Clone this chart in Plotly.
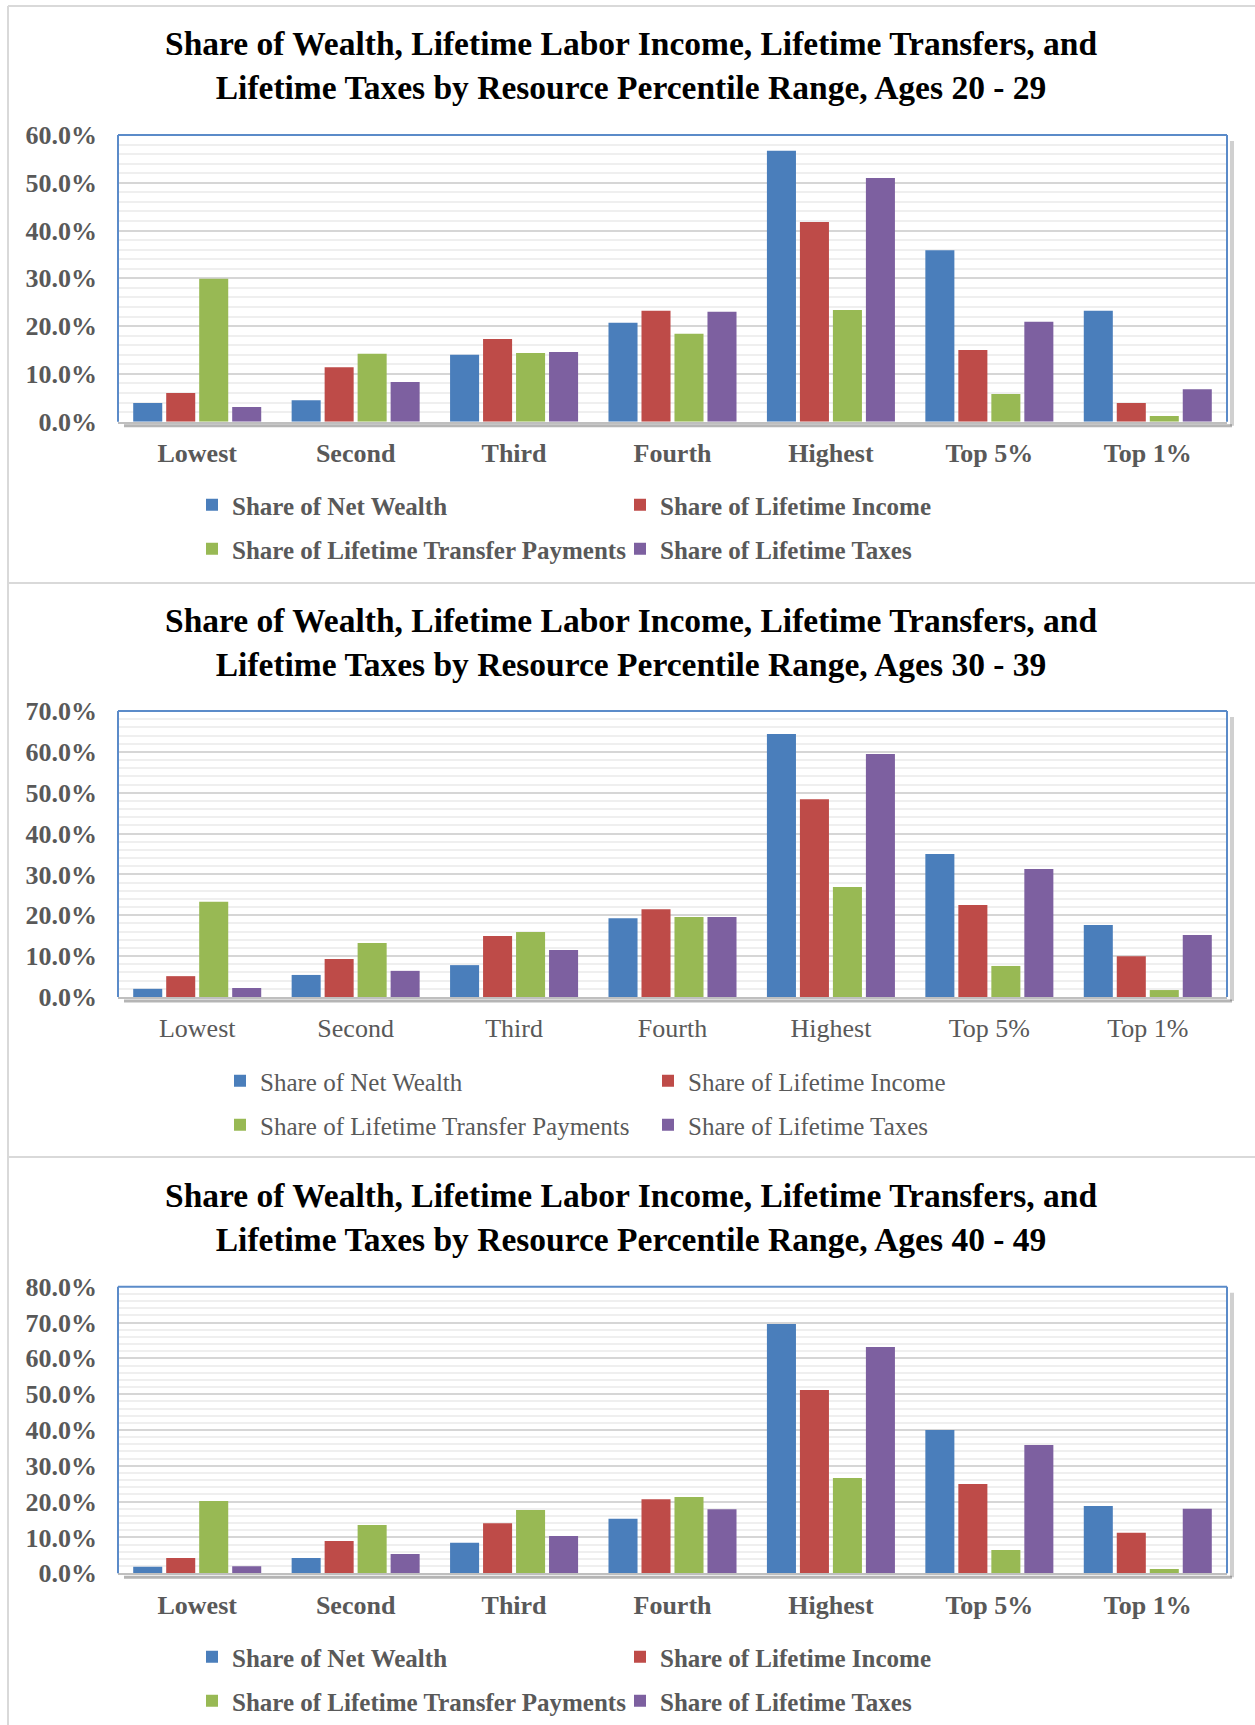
import plotly.graph_objects as go

W, H = 1255, 1725

categories = ["Lowest", "Second", "Third", "Fourth", "Highest", "Top 5%", "Top 1%"]
series_names = ["Share of Net Wealth", "Share of Lifetime Income",
                "Share of Lifetime Transfer Payments", "Share of Lifetime Taxes"]
series_colors = ["#4A7EBB", "#BE4B48", "#98B954", "#7D60A0"]

# values in percent
wealth_20 = [3.9, 4.5, 14.0, 20.7, 56.7, 35.9, 23.2]
income_20 = [6.0, 11.4, 17.3, 23.2, 41.8, 15.0, 3.9]
transfers_20 = [29.9, 14.2, 14.4, 18.4, 23.4, 5.8, 1.2]
taxes_20 = [3.1, 8.3, 14.6, 23.0, 51.0, 20.9, 6.8]

wealth_30 = [2.0, 5.4, 7.8, 19.3, 64.4, 35.0, 17.6]
income_30 = [5.1, 9.3, 14.9, 21.5, 48.4, 22.5, 10.0]
transfers_30 = [23.3, 13.2, 15.9, 19.6, 26.9, 7.6, 1.7]
taxes_30 = [2.2, 6.4, 11.5, 19.6, 59.5, 31.3, 15.2]

wealth_40 = [1.8, 4.3, 8.5, 15.2, 69.6, 40.0, 18.8]
income_40 = [4.3, 9.0, 14.0, 20.7, 51.2, 24.9, 11.3]
transfers_40 = [20.2, 13.5, 17.7, 21.3, 26.6, 6.5, 1.2]
taxes_40 = [2.0, 5.4, 10.4, 17.9, 63.2, 35.8, 18.0]

title_line1 = "Share of Wealth, Lifetime Labor Income, Lifetime Transfers, and"
age_ranges = ["20 - 29", "30 - 39", "40 - 49"]
y_max = [0.6, 0.7, 0.8]

panels = [
    dict(data=[wealth_20, income_20, transfers_20, taxes_20], bold=True,
         plot_px=(135, 421.7), title_px=66, legend_px=(505, 549), legend_left=192),
    dict(data=[wealth_30, income_30, transfers_30, taxes_30], bold=False,
         plot_px=(711, 997), title_px=642, legend_px=(1081, 1125), legend_left=220),
    dict(data=[wealth_40, income_40, transfers_40, taxes_40], bold=True,
         plot_px=(1286.7, 1573.3), title_px=1217, legend_px=(1657, 1701), legend_left=192),
]

FONT = "Liberation Serif"
GRAY_TXT = "#595959"
PLOT_L, PLOT_R = 118, 1227
x_dom = [PLOT_L / W, PLOT_R / W]


def py(v):
    return 1 - v / H


fig = go.Figure()
layout = dict(
    width=W, height=H,
    margin=dict(l=0, r=0, t=0, b=0),
    paper_bgcolor="white", plot_bgcolor="white",
    barmode="group", bargap=0.167, bargroupgap=0.12,
    font=dict(family=FONT, color=GRAY_TXT),
    annotations=[], shapes=[],
)

for i, p in enumerate(panels):
    n = "" if i == 0 else str(i + 1)
    weight = "bold" if p["bold"] else "normal"
    for j, (name, vals) in enumerate(zip(series_names, p["data"])):
        leg_idx = 2 * i + j // 2 + 1
        leg = "legend" if leg_idx == 1 else f"legend{leg_idx}"
        fig.add_trace(go.Bar(
            x=categories, y=[v / 100 for v in vals], name=name,
            marker=dict(color=series_colors[j], line=dict(width=0)),
            xaxis="x" + n, yaxis="y" + n, legend=leg,
        ))

    top, bottom = p["plot_px"]
    layout["xaxis" + n] = dict(
        domain=x_dom, anchor="y" + n, type="category", automargin=False,
        showline=True, linecolor="#bfbfbf", linewidth=2,
        ticks="", ticklabelstandoff=7,
        tickfont=dict(family=FONT, size=26, color=GRAY_TXT, weight=weight),
        fixedrange=True,
    )
    layout["yaxis" + n] = dict(
        domain=[py(bottom), py(top)], anchor="x" + n, automargin=False,
        range=[0, y_max[i]], dtick=0.1, tickformat=".1%",
        showgrid=True, gridcolor="#d6d6d6", gridwidth=1.5,
        minor=dict(dtick=0.02, showgrid=True, gridcolor="#efefef", gridwidth=2),
        zeroline=False, showline=False, ticks="", ticklabelstandoff=20,
        tickfont=dict(family=FONT, size=26, color=GRAY_TXT, weight="bold"),
        fixedrange=True,
    )

    # chart title
    layout["annotations"].append(dict(
        text=f"{title_line1}<br>Lifetime Taxes by Resource Percentile Range, Ages {age_ranges[i]}",
        x=631 / W, y=py(p["title_px"]), xref="paper", yref="paper",
        xanchor="center", yanchor="middle", showarrow=False,
        font=dict(family=FONT, size=33.5, color="black", weight="bold"),
    ))

    # plot-area frame: blue on left/top/right, soft shadow on right and bottom
    xr, yr = "x" + n + " domain", "y" + n + " domain"
    h = bottom - top
    w = PLOT_R - PLOT_L
    for x0, y0, x1, y1, c, wdt in [
        (1 + 5 / w, -4 / h, 1 + 5 / w, 1 - 6 / h, "rgba(120,120,120,0.35)", 4),
        (6 / w, -4 / h, 1 + 5 / w, -4 / h, "rgba(90,90,90,0.45)", 3),
        (0, 0, 0, 1, "#5B8BC9", 2),
        (0, 1, 1, 1, "#5B8BC9", 2),
        (1, 0, 1, 1, "#5B8BC9", 2),
    ]:
        layout["shapes"].append(dict(type="line", xref=xr, yref=yr, x0=x0, y0=y0,
                                     x1=x1, y1=y1, line=dict(color=c, width=wdt),
                                     layer="above"))

    # two legend rows per chart
    for r in range(2):
        leg_idx = 2 * i + r + 1
        key = "legend" if leg_idx == 1 else f"legend{leg_idx}"
        layout[key] = dict(
            orientation="h", x=p["legend_left"] / W, xanchor="left",
            y=py(p["legend_px"][r]), yanchor="middle",
            entrywidth=383, entrywidthmode="pixels",
            bgcolor="rgba(0,0,0,0)", borderwidth=0,
            font=dict(family=FONT, size=25, color=GRAY_TXT, weight=weight),
        )

# page frame lines between panels
for x0, y0, x1, y1 in [(8, 6, W, 6), (8, 6, 8, H), (8, 583, W, 583), (8, 1157, W, 1157)]:
    layout["shapes"].append(dict(type="line", xref="paper", yref="paper",
                                 x0=x0 / W, x1=x1 / W, y0=py(y0), y1=py(y1),
                                 line=dict(color="#d9d9d9", width=2)))

fig.update_layout(**layout)
fig.write_html("out.html", config={"displayModeBar": False},
               post_script="document.body.style.margin = '0';")
